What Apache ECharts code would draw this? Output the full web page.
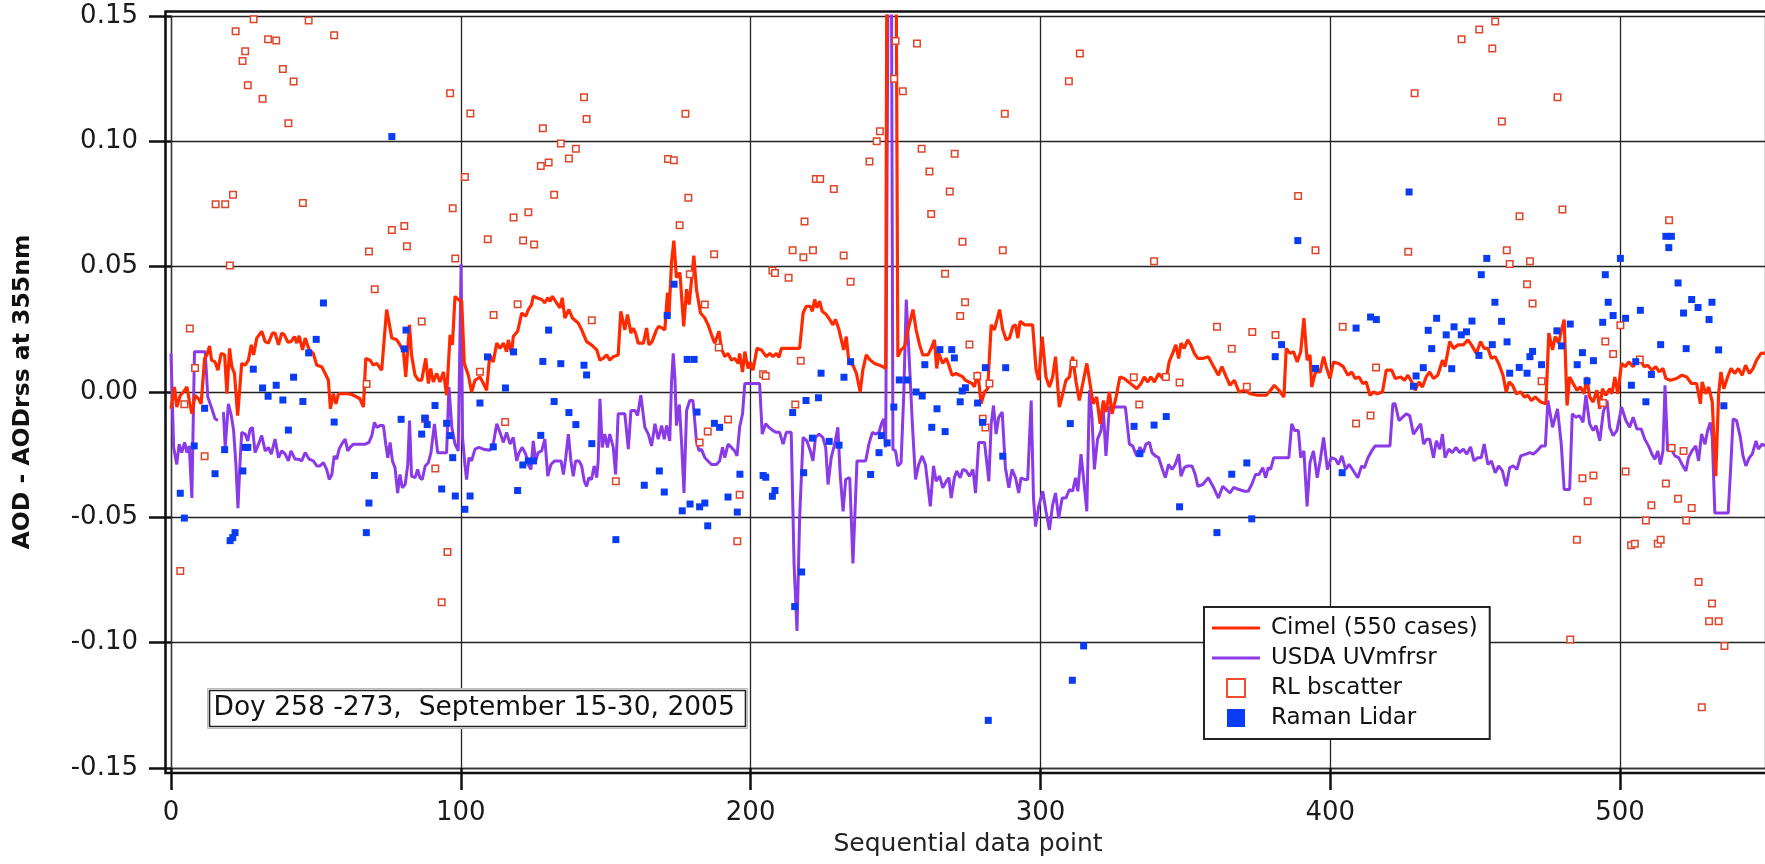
<!DOCTYPE html>
<html>
<head>
<meta charset="utf-8">
<title>AOD - AODrss at 355nm</title>
<script src="https://cdn.jsdelivr.net/npm/echarts@6/dist/echarts.min.js"></script>
<style>
  html, body { margin: 0; padding: 0; background: #fff; }
  #chart { width: 1765px; height: 864px; }
</style>
</head>
<body>
<div id="chart"></div>
<script>
// values: [data point, AOD - AODrss]
const cimel = [
  [0,-0.0067],[1.2,0.002],[2,-0.006],[3.2,-0.0013],[4.3,0],[5.5,0.002],[6.3,-0.0034],[7.2,-0.0087],[8.3,-0.0013],[9.5,-0.0027],
  [10.4,-0.0047],[11.6,0.0134],[12.4,0.0148],[13.3,0.0184],[14,0.0127],[15.2,0.012],[16.2,0.0087],[17.3,0.0154],[18.5,0.0148],[19.3,-0.0007],
  [20.2,0.0174],[21,0.01],[21.9,0.0074],[23,-0.0094],[24.4,0.0114],[25.6,0.0107],[26.7,0.0127],[27.7,0.0188],[28.5,0.0148],[29.6,0.0215],
  [31.3,0.0242],[32.5,0.0201],[33.6,0.0195],[35,0.0235],[35.9,0.0235],[37.1,0.0188],[38.2,0.0235],[39.1,0.0228],[40.3,0.0199],[41.4,0.0201],
  [42.6,0.0221],[43.4,0.0195],[44.2,0.0224],[45.4,0.0168],[46.3,0.0215],[47.7,0.0168],[49.1,0.0154],[50.3,0.0107],[52,0.0101],[53.2,0.0074],
  [54.3,0.0047],[55,-0.0067],[56,-0.0007],[56.9,-0.0047],[57.8,-0.0007],[59.5,-0.0007],[61,-0.0007],[62.4,-0.001],[64.1,-0.002],[65.2,-0.0027],
  [66.4,-0.006],[67.2,0.0134],[68.7,0.0127],[69.8,0.0107],[71,0.0114],[72.7,0.0087],[73.3,0.0087],[74.4,0.0329],[75,0.0329],[76.2,0.0215],
  [77.9,0.0208],[79,0.0188],[80.2,0.0161],[81,0.006],[82.3,0.0268],[83,0.0148],[84.2,0.0067],[85.4,0.0047],[86.5,0.0047],[87.9,0.0134],
  [88.8,0.0034],[89.6,0.0094],[90.5,0.004],[91.7,0.0074],[92.8,0.004],[94,0.008],[95.1,-0.0013],[96.3,0.0228],[97.1,0.0188],[98,0.0382],
  [99.1,0.0369],[100.3,0.0362],[101.2,0.0114],[102.6,0.0067],[103.7,0],[104.9,0.0047],[106.6,0.006],[107.8,0.0034],[108.9,0.0007],[110,0.0148],
  [111.2,0.012],[112.4,0.0195],[113.5,0.0174],[114.7,0.0195],[115.8,0.0161],[116.4,0.0208],[117.5,0.0154],[118.1,0.0221],[119.6,0.0242],[121,0.0315],
  [122.4,0.0302],[123.3,0.0329],[124.4,0.0349],[125,0.0382],[126.2,0.0376],[127.9,0.0369],[129,0.0356],[130,0.0376],[130.8,0.0362],[131.6,0.0382],
  [133,0.0356],[134.2,0.0336],[135,0.0376],[135.9,0.0295],[137.3,0.0329],[138.5,0.0295],[140.5,0.0275],[141.7,0.0248],[143.4,0.0201],[145.1,0.0188],
  [146.9,0.0168],[148,0.0127],[149.1,0.0134],[150.3,0.0148],[151.4,0.0127],[152.6,0.0141],[154.3,0.0148],[155.2,0.0322],[156.6,0.0248],[157.5,0.0309],
  [158.7,0.0235],[159.5,0.0255],[160.3,0.0235],[161.2,0.0195],[163,0.0195],[164.1,0.0255],[164.9,0.0188],[166,0.0201],[167.5,0.0248],[168.3,0.0262],
  [169.5,0.0255],[170.4,0.0248],[171.3,0.0396],[171.8,0.0302],[172.7,0.0517],[173.5,0.0604],[174.4,0.0456],[175.6,0.0476],[176.9,0.0262],[177.9,0.041],
  [178.8,0.0349],[180.4,0.0544],[181.3,0.041],[182.7,0.0315],[184.2,0.0295],[185.3,0.0268],[186.5,0.0228],[187.6,0.0195],[189.1,0.0242],[189.9,0.0174],
  [191.1,0.0141],[192.2,0.0154],[193.4,0.0127],[194.5,0.0134],[195.7,0.0114],[196.2,0.0154],[197.2,0.008],[198,0.0161],[199.1,0.0094],[199.9,0.012],
  [200.8,0.0087],[202.2,0.0174],[203.7,0.0168],[205.4,0.0141],[206.6,0.0154],[207.7,0.0141],[208.9,0.0154],[209.8,0.0138],[210.6,0.0174],[212.3,0.0174],
  [214.6,0.0174],[216.9,0.0174],[218.1,0.0315],[219.2,0.0342],[220.6,0.0342],[221.3,0.0322],[222.1,0.0369],[222.9,0.0336],[223.8,0.0362],[224.7,0.0322],
  [226.1,0.0309],[227.3,0.0289],[228.4,0.0268],[229.3,0.0289],[230.5,0.0248],[231.3,0.0208],[232.1,0.0168],[233,0.0221],[233.9,0.012],[235.3,0.0107],
  [236.5,0.0074],[237.8,0],[238.7,0.0087],[239.9,0.0148],[241.3,0.0127],[242.8,0.0114],[244.5,0.0107],[246.6,0.0094],[247,0.17],[248.2,0.17],
  [250.2,0.17],[250.8,0.0141],[251.9,0.0168],[253.1,0.0181],[254.3,0.0248],[256,0.0329],[257.1,0.0248],[258.3,0.0188],[259.4,0.0148],[261.2,0.0148],
  [262.3,0.0174],[263.4,0.0208],[264.2,0.0094],[264.9,0.0154],[266.3,0.0114],[267.5,0.0134],[268.4,0.0107],[269.5,0.0067],[270.9,0.0074],[272.1,0.0067],
  [273.2,0.006],[274.1,0.0047],[275.3,0.004],[276.4,0.0034],[277.2,0.002],[278.4,0.008],[279.5,-0.0047],[280.7,0],[281.8,0.0013],[283,0.0268],
  [284.1,0.0248],[285.9,0.0329],[287,0.0248],[288.2,0.0208],[289.3,0.0215],[290.5,0.0262],[291.4,0.0268],[292.2,0.0215],[293,0.0282],[294.5,0.0268],
  [297.3,0.0268],[298.5,0.0087],[299.4,0.0047],[300.6,0.0221],[301.9,0.006],[303.1,0.002],[304.2,0.006],[305.2,0.0141],[306.5,-0.006],[307.7,-0.0007],
  [308.8,0.0047],[310,0.006],[311.1,0.0141],[312.3,0.004],[313.4,-0.0034],[314.6,0.0034],[316,0.0114],[317.1,0.0034],[318.2,-0.0047],[319.4,-0.002],
  [320.6,-0.0127],[321.7,-0.0034],[322.6,-0.008],[323.8,0],[324.7,-0.0087],[326.1,-0.002],[327.4,0.006],[328.9,0.0054],[330.4,0.004],[331.8,0.0027],
  [333.2,0.0013],[334.7,0.0034],[335.8,0.006],[337,0.004],[338.1,0.006],[339.3,0.004],[340.8,0.0074],[342.2,0.0054],[343.5,0.006],[344.4,0.012],
  [345.6,0.0154],[346.7,0.0188],[347.7,0.0134],[348.5,0.0195],[349.6,0.0174],[350.8,0.0208],[351.9,0.0188],[353.1,0.0154],[354.3,0.0134],[356,0.0134],
  [357.9,0.0141],[359.8,0.0101],[361.4,0.0067],[362.6,0.0101],[364.1,0.006],[365.4,0.0027],[366.9,0.0047],[368.5,0],[370.4,0.0007],[372.3,-0.0007],
  [374.8,-0.0013],[377.9,-0.0013],[379.4,0.0007],[380.7,0.0027],[382.3,0.0007],[384,-0.002],[384.8,0.0174],[386.1,0.0154],[387.3,0.0161],[388.6,0.012],
  [389.8,0.0161],[390.9,0.0295],[392,0.0127],[393,0.0148],[393.6,0.002],[394.9,0.008],[396.5,0.008],[397.7,0.0141],[398.6,0.0101],[399.9,0.0054],
  [401.1,0.012],[402.8,0.0114],[404.5,0.0101],[406.1,0.0067],[407.4,0.008],[408.6,0.0054],[409.9,0.006],[411.2,0.0034],[412.4,0.004],[413.7,-0.0013],
  [414.9,0],[416.2,-0.0007],[418,0],[419.3,0.0087],[421.2,0.0087],[422.4,0.0054],[424.3,0.006],[425.6,0.0047],[426.8,0.0067],[428.1,0.004],
  [429.3,0.0007],[430.6,0.004],[431.8,0.002],[433.1,0.006],[434.3,0.008],[435.6,0.0054],[437.1,0.0067],[438.7,0.0127],[439.6,0.0101],[441.2,0.0201],
  [442.5,0.0174],[444.1,0.0188],[445.9,0.0188],[447.5,0.0208],[448.7,0.0188],[450.4,0.0154],[451.9,0.0201],[453.1,0.0174],[454.4,0.0174],[455.6,0.0134],
  [456.9,0.0141],[458.1,0.0114],[459.6,0.0067],[460.7,0],[461.7,0.004],[462.9,0.0027],[464.2,-0.0007],[465.7,0],[467,-0.002],[468.2,-0.0013],
  [469.4,-0.0034],[470.7,-0.002],[472.6,-0.004],[474.4,-0.0047],[475.4,0.0235],[476.7,0.0168],[477.6,0.0221],[478.8,0.0195],[479.7,0.0242],[480.7,0.0289],
  [481.7,-0.0054],[482.6,0.006],[483.8,0.0034],[485.1,0.0007],[486.3,0.002],[487.6,-0.0007],[488.5,0.006],[489.5,-0.002],[490.7,-0.004],[492,0.0007],
  [493,-0.0067],[493.9,0.0013],[495.1,-0.0013],[496.4,0.0013],[497.2,-0.0007],[498.2,0.006],[499.2,-0.0007],[500.5,0.0114],[501.7,0.0101],[503,0.012],
  [504.5,0.0101],[505.8,0.0127],[507.3,0.012],[508.3,0.0101],[509.5,0.0107],[511,0.0087],[512.3,0.0101],[513.5,0.008],[514.8,0.0094],[515.8,0.0054],
  [517.3,0.0047],[519.5,0.0054],[521.4,0.0067],[523,0.006],[524.6,0.0034],[526.4,0.0034],[527.7,-0.0047],[528.3,0.004],[529.6,-0.0007],[530.6,0.002],
  [531.8,-0.004],[533,-0.0336],[534,-0.0007],[534.8,0.008],[535.8,0.0013],[537.1,0.006],[538.3,0.0094],[539.6,0.0074],[540.8,0.0094],[542.1,0.0067],
  [543.3,0.0107],[544.6,0.0074],[545.9,0.0094],[547.1,0.0127],[548.6,0.0154],[550,0.0155]
];

const uvmfrsr = [
  [0,0.0154],[0.9,-0.0221],[2,-0.0289],[2.8,-0.0208],[3.7,-0.0242],[4.7,-0.0201],[5.5,-0.0242],[6.3,-0.0215],[7.2,-0.0423],[8.1,0.0161],
  [9.5,0.0161],[11.8,0.0161],[12.7,-0.002],[13.9,-0.006],[15.2,-0.0107],[16.2,-0.0114],[17,'-'],[18.1,-0.008],[18.7,-0.0221],[19.8,-0.0047],
  [20.8,-0.0094],[21.6,-0.0154],[22.4,-0.0289],[23.1,-0.0463],[23.9,-0.0262],[24.4,-0.0161],[25.6,-0.0168],[26.5,-0.0195],[27.3,-0.0148],[28.1,-0.0141],
  [29,-0.0242],[30.2,-0.0208],[31.3,-0.0174],[32.5,-0.0235],[33.6,-0.0221],[34.6,-0.0248],[35.9,-0.0188],[37.1,-0.0262],[38.2,-0.0235],[39.4,-0.0248],
  [40.5,-0.0275],[41.4,-0.0235],[42.8,-0.0268],[44,-0.0268],[45.1,-0.0275],[46.3,-0.0242],[47.7,-0.0268],[49.1,-0.0275],[50.3,-0.0295],[51.4,-0.0295],
  [52.6,-0.0282],[53.7,-0.0309],[54.6,-0.0349],[55.5,-0.0329],[56.3,-0.0255],[57.2,-0.0268],[58,-0.0228],[58.9,-0.0208],[60.1,-0.0188],[61,-0.0235],
  [61.8,-0.0221],[62.9,-0.0208],[64.7,-0.0208],[67,-0.0208],[68.3,-0.0201],[69.3,-0.0174],[70.2,-0.0121],[71,-0.0141],[72.1,-0.0134],[73.3,-0.0134],
  [74.1,-0.0208],[74.8,-0.0262],[75.6,-0.0201],[76.4,-0.0275],[77.3,-0.0302],[78.2,-0.0403],[79,-0.0329],[79.8,-0.0382],[80.8,-0.0369],[81.7,-0.0289],
  [82.3,-0.0114],[83,-0.0336],[84.2,-0.0342],[85.1,-0.0309],[85.9,-0.0342],[86.7,-0.0349],[87.7,-0.0295],[88.8,-0.0282],[89.7,-0.0242],[90.9,-0.0127],
  [92,-0.0242],[93.4,-0.0242],[95.1,-0.0242],[95.9,0.002],[96.9,-0.0141],[98,-0.0208],[99.1,-0.0235],[100.1,0.051],[100.6,-0.0181],[101.4,-0.0289],
  [102,-0.0349],[102.8,-0.0262],[103.7,-0.0275],[104.9,-0.0228],[106.3,-0.0221],[107.8,-0.0228],[110.1,-0.0232],[111.2,-0.0208],[112.4,-0.0127],[113.5,-0.0161],
  [114.7,-0.0201],[115.8,-0.0161],[117,-0.0208],[118.1,-0.0181],[119.3,-0.0275],[120.1,-0.0242],[121.2,-0.0221],[122.4,-0.0248],[123.3,-0.0289],[124.2,-0.0309],
  [125,-0.0195],[125.8,-0.0275],[126.7,-0.0242],[127.9,-0.0235],[129,-0.0188],[130,-0.0336],[131.1,-0.0289],[132.3,-0.0275],[133.4,-0.0275],[134.6,-0.0275],
  [135.4,-0.0329],[136.2,-0.0262],[137.1,-0.0168],[138,-0.0275],[138.8,-0.0336],[139.6,-0.0275],[140.8,-0.0275],[141.7,-0.0295],[142.6,-0.0356],[143.4,-0.0376],
  [144.2,-0.0342],[145.1,-0.0349],[146,-0.0295],[146.9,-0.0342],[147.4,-0.0275],[148,-0.0027],[148.8,-0.0221],[149.7,-0.0168],[150.6,-0.0221],[151.4,-0.0168],
  [152.6,-0.0221],[153.4,-0.0329],[154.3,-0.0087],[155.7,-0.0087],[156.6,-0.0087],[157.8,-0.0228],[158.7,-0.0074],[160.1,-0.0074],[161,-0.0094],[162.1,-0.0013],
  [163.5,-0.0141],[164.7,-0.0168],[165.8,-0.0215],[167,-0.0127],[168.1,-0.0188],[169.3,-0.0134],[170.2,-0.0188],[171,-0.0134],[172.1,-0.0195],[172.7,0.004],
  [173.3,0.0154],[173.9,0.0047],[174.4,-0.0134],[175.4,-0.005],[176.2,-0.0208],[177,-0.0403],[177.9,-0.0074],[179,-0.0034],[180.1,-0.0034],[181.3,-0.0195],
  [182.2,-0.0235],[183,-0.0228],[184.2,-0.0262],[185.3,-0.0275],[186.5,-0.0289],[188.2,-0.0289],[189.3,-0.0275],[190.3,-0.0221],[191.1,-0.0262],[192.2,-0.0208],
  [193.4,-0.0221],[194.5,-0.0235],[195.3,-0.0255],[196.2,-0.0141],[197.2,-0.0087],[198,0.0034],[199.7,0.0034],[201.4,0.0034],[203.1,0.0034],[204,-0.0168],
  [205.2,-0.0127],[206.3,-0.0141],[207.7,-0.0154],[208.9,-0.0161],[210,-0.0161],[211.2,-0.0208],[212.3,-0.0161],[214,-0.0161],[215,-0.0691],[216,-0.0953],
  [216.9,-0.0503],[218.1,-0.0181],[219.4,-0.0195],[220.6,-0.0235],[221.5,-0.0275],[222.4,-0.0181],[223.6,-0.0168],[224.9,-0.0181],[225.9,-0.0221],[226.7,-0.0369],
  [227.8,-0.0262],[229,-0.0208],[230.1,-0.0141],[230.9,-0.0329],[231.9,-0.0476],[232.8,-0.0349],[234.2,-0.0342],[235.3,-0.0684],[236.7,-0.0275],[238.2,-0.0275],
  [239.7,-0.0275],[240.8,-0.0208],[242,-0.0161],[243.1,-0.0168],[244.3,-0.0161],[245.1,-0.0127],[245.9,-0.0107],[246.6,-0.0221],[247.4,0.16],[248.6,0.16],
  [249.1,-0.0228],[250,-0.0235],[250.8,-0.0295],[251.9,-0.0282],[252.8,-0.002],[253.7,0.0369],[254.8,0.0114],[255.8,-0.0127],[256.9,-0.0349],[258,-0.0289],
  [259.2,-0.0255],[260.3,-0.0289],[262,-0.0456],[263.1,-0.0295],[264,-0.0356],[265.2,-0.0336],[266.3,-0.0382],[267.5,-0.0356],[268.4,-0.0342],[269.2,-0.0423],
  [270.3,-0.0342],[271.1,-0.0315],[272.3,-0.0342],[273.2,-0.0309],[274.4,-0.0315],[275.5,-0.0336],[276.7,-0.0309],[277.6,-0.0403],[278.7,-0.0201],[280.7,-0.0201],
  [282.2,-0.0356],[283,-0.0127],[283.8,-0.0054],[284.7,-0.0168],[285.6,-0.0101],[286.8,-0.008],[287.9,-0.0302],[289.1,-0.0382],[290.2,-0.0309],[291.4,-0.0342],
  [292.5,-0.0403],[293.3,-0.0342],[294.5,-0.0349],[295.6,-0.0349],[296.8,-0.0034],[297.6,-0.0423],[298.3,-0.0537],[299.4,-0.0456],[300.8,-0.0396],[301.9,-0.0476],
  [303.1,-0.055],[304.2,-0.045],[305.2,-0.0403],[306.3,-0.0503],[307.5,-0.0423],[308.8,-0.0423],[310,-0.0389],[311.1,-0.0396],[312.1,-0.0342],[312.9,-0.0396],
  [314,-0.0248],[314.8,-0.0336],[316,-0.0476],[316.9,0.0007],[317.8,-0.0107],[318.6,-0.0309],[319.7,-0.0188],[320.9,-0.0154],[321.7,-0.0074],[322.6,-0.0255],
  [323.8,-0.006],[324.7,-0.006],[327,-0.006],[329.3,-0.006],[330.7,-0.0208],[331.8,-0.0215],[333.2,-0.0255],[334.3,-0.0221],[335.5,-0.0242],[336.4,-0.0208],
  [337.6,-0.0201],[338.5,-0.0242],[339.6,-0.0255],[340.8,-0.0262],[341.9,-0.0302],[343.1,-0.0342],[344.2,-0.0289],[345.4,-0.0309],[346.5,-0.0289],[347.7,-0.0248],
  [348.5,-0.0336],[349.6,-0.0302],[350.8,-0.0295],[352.3,-0.0295],[353.4,-0.0329],[354.3,-0.0376],[356,-0.0369],[357.9,-0.0342],[359.8,-0.0382],[361.4,-0.0423],
  [362.9,-0.0376],[364.1,-0.0389],[365.4,-0.0403],[366.7,-0.038],[368.5,-0.0389],[370.4,-0.0396],[371.7,-0.0396],[372.9,-0.0369],[374.2,-0.0329],[375.4,-0.0329],
  [376.7,-0.0302],[377.7,-0.0342],[378.6,-0.0302],[379.4,-0.0309],[380.5,-0.0262],[382.9,-0.0262],[385.7,-0.0262],[386.7,-0.0127],[387.7,-0.0154],[389,-0.0154],
  [389.8,-0.0262],[390.9,-0.0235],[392,-0.0456],[393,-0.0282],[394.2,-0.0235],[395.5,-0.0342],[396.5,-0.0275],[397.7,-0.0181],[399,-0.0309],[400.3,-0.0262],
  [401.8,-0.0268],[402.8,-0.0289],[404,-0.0255],[405.3,-0.0309],[406.5,-0.0289],[408,-0.0315],[409.5,-0.0342],[410.8,-0.0295],[411.8,-0.0302],[413,-0.0262],
  [414.3,-0.0235],[415.5,-0.0215],[418,-0.0215],[420.6,-0.0215],[421.6,-0.0047],[422.4,-0.0047],[423.7,-0.0114],[424.9,-0.0101],[426.2,-0.0087],[427.4,-0.0094],
  [428.7,-0.0168],[429.9,-0.0148],[431.2,-0.0127],[432.2,-0.0208],[433.3,-0.0188],[434.3,-0.0188],[435.6,-0.0262],[436.6,-0.0195],[437.8,-0.0228],[438.7,-0.0168],
  [439.6,-0.0262],[440.9,-0.0228],[442.1,-0.0242],[443.4,-0.0221],[444.6,-0.0242],[445.9,-0.0228],[447.1,-0.0248],[448.4,-0.0219],[449.6,-0.0275],[450.9,-0.0262],
  [452.1,-0.0262],[453.1,-0.0208],[454.4,-0.0289],[455.6,-0.0275],[456.9,-0.0322],[458.1,-0.0295],[459.4,-0.0315],[460.7,-0.0376],[461.9,-0.0302],[463.2,-0.0295],
  [464.4,-0.0309],[465.7,-0.0255],[467.5,-0.0248],[468.8,-0.0242],[470.1,-0.0248],[471.3,-0.0235],[472.9,-0.0215],[474.2,-0.0215],[475.1,-0.0034],[476.7,-0.0141],
  [478.4,-0.0067],[479.7,-0.0208],[480.7,-0.0389],[482.6,-0.0389],[483.5,-0.0087],[484.7,-0.0101],[486,-0.0094],[487.2,-0.0121],[488.2,-0.0013],[489.5,-0.0127],
  [490.7,-0.0154],[491.7,-0.0134],[493,-0.0195],[494.2,-0.008],[495.5,-0.0034],[496.4,-0.0141],[497.6,-0.0174],[498.9,-0.0154],[500.5,-0.006],[502,-0.0114],
  [503.3,-0.0141],[504.5,-0.0101],[505.8,-0.0148],[507.3,-0.0148],[508.5,-0.0188],[509.8,-0.0215],[511,-0.0248],[512,-0.0268],[513,-0.0235],[513.9,-0.0289],
  [514.8,-0.0235],[515.5,0.0027],[516.4,-0.0235],[517.7,-0.0228],[518.9,-0.0255],[520.2,-0.0262],[521.4,-0.0289],[522.7,-0.0315],[523.6,-0.0262],[524.8,-0.0235],
  [526.1,-0.0215],[527.1,-0.0275],[528.1,-0.0168],[529.3,-0.0208],[530.2,-0.0154],[531.1,-0.0121],[531.8,-0.0181],[532.7,-0.0483],[534.6,-0.0483],[537.3,-0.0483],
  [538.1,-0.0315],[539,-0.0107],[540.2,-0.0114],[541.5,-0.0181],[542.4,-0.0255],[543.4,-0.0295],[544.6,-0.0262],[545.6,-0.0248],[546.9,-0.0195],[547.7,-0.0228],
  [549,-0.0208],[550,-0.0215]
];

const rlBscatter = [
  [3.2,-0.0714],[4.6,-0.0049],[6.5,0.0253],[8.3,0.0096],[11.6,-0.0256],[15.4,0.0749],[18.7,0.0749],[20.3,0.0505],[21.4,0.0787],[22.3,0.1439],
  [24.7,0.132],[25.6,0.1359],[26.5,0.1224],[28.5,0.1487],[31.6,0.117],[33.5,0.1407],[36.3,0.1402],[38.6,0.1289],[40.5,0.1072],[42.3,0.1239],
  [45.5,0.0754],[47.5,0.1482],[56.3,0.1423],[67.5,0.0032],[68.3,0.0561],[70.3,0.041],[76.2,0.0646],[80.5,0.0662],[81.4,0.0581],[86.5,0.0281],
  [87.7,-0.0108],[91.2,-0.0305],[93.4,-0.0839],[95.4,-0.0638],[96.3,0.1192],[97.2,0.0733],[98.1,0.0533],[101.4,0.0858],[103.3,0.1111],[106.6,0.0081],
  [109.3,0.0609],[111.3,0.0307],[115.3,-0.012],[118.2,0.0696],[119.6,0.035],[121.5,0.0604],[123.3,0.0717],[125.3,0.0588],[127.6,0.0902],[128.3,0.1052],
  [130.3,0.0916],[132.2,0.0787],[134.5,0.0991],[137.3,0.0932],[139.7,0.097],[142.5,0.1176],[143.4,0.1089],[145.2,0.0286],[153.5,-0.0356],[171.5,0.093],
  [173.5,0.0925],[175.5,0.0665],[177.5,0.111],[178.5,0.0775],[179,0.047],[182.4,-0.0201],[184.2,0.0349],[185.2,-0.0158],[187.4,0.055],[189,0.0178],
  [192.2,-0.011],[195.4,-0.0595],[196.2,-0.041],[204.3,0.0071],[205.2,0.0064],[207.5,0.0485],[208.4,0.0475],[213.1,0.0456],[214.5,0.0565],[215.4,-0.005],
  [217.3,0.0125],[218.2,0.0538],[218.6,0.068],[221.5,0.0565],[222.5,0.085],[224,0.085],[228.7,0.081],[232.1,0.0545],[234.5,0.044],[241,0.092],
  [243.5,0.1],[244.6,0.104],[249.5,0.125],[250,0.14],[252.5,0.12],[257.4,0.139],[259,0.097],[261.7,0.088],[262.3,0.071],[267.1,0.0472],
  [268.7,0.08],[270.4,0.095],[272.3,0.0303],[273.1,0.0599],[274,0.0358],[275.5,0.0189],[278.2,0.0064],[280.1,-0.0107],[281,-0.0142],[282.4,0.0034],
  [287,0.0565],[287.7,0.111],[309.8,0.124],[311.4,0.0114],[313.6,0.135],[332.2,0.0059],[334.1,-0.005],[339.2,0.0522],[343.3,0.006],[348,0.0038],
  [360.9,0.026],[366,0.0173],[371.2,0.0021],[373.1,0.0239],[381.1,0.0227],[388.9,0.0782],[394.9,0.0565],[404.3,0.026],[408.9,-0.0126],[413.9,-0.0094],
  [415.8,0.0098],[426.9,0.056],[429.1,0.1192],[445.3,0.1407],[451.4,0.1446],[455.9,0.137],[456.9,0.1478],[459.2,0.1079],[460.9,0.0565],[461.9,0.0511],
  [465.3,0.0701],[467.9,0.043],[468.9,0.0522],[469.8,0.0353],[472.9,0.0043],[478.4,0.1176],[480.1,0.0728],[482.8,-0.0987],[485.1,-0.0589],[487,-0.0344],
  [488.8,-0.0436],[490.8,-0.0333],[494.1,-0.0044],[494.9,0.0201],[497.6,0.0152],[500.1,0.0266],[501.9,-0.0317],[503.8,-0.0611],[505.1,-0.0605],[506.8,0.013],
  [508.9,-0.0513],[510.8,-0.0452],[513,-0.0605],[514,-0.0589],[515.8,-0.0365],[516.9,0.0685],[517.8,-0.0223],[520,-0.0426],[521.9,-0.0235],[522.8,-0.0513],
  [524.7,-0.0463],[527.1,-0.0758],[528.2,-0.1258],[530.7,-0.0915],[531.7,-0.0844],[534,-0.0915],[536,-0.1013]
];

const ramanLidar = [
  [3.2,-0.0404],[4.6,-0.0503],[8,-0.0215],[11.6,-0.0065],[15.2,-0.0326],[18.5,-0.023],[20.4,-0.0593],[21.3,-0.0581],[22.1,-0.0561],[24.8,-0.0315],
  [25.6,-0.0221],[26.5,-0.0221],[28.4,0.0091],[31.6,0.0016],[33.5,-0.0017],[36.3,0.0027],[38.6,-0.0032],[40.5,-0.0152],[42.3,0.0059],[45.5,-0.0038],
  [47.5,0.0156],[50.1,0.021],[52.6,0.0355],[56.3,-0.012],[67.4,-0.0561],[68.3,-0.0443],[70.2,-0.0333],[76.2,0.1019],[79.4,-0.0109],[80.5,0.0172],
  [81.1,0.0247],[86.5,-0.0168],[87.6,-0.0104],[88.4,-0.013],[91.1,-0.0054],[93.4,-0.0387],[95.1,-0.0125],[96.3,-0.0174],[97.2,-0.0262],[98.1,-0.0415],
  [101.4,-0.0468],[103.2,-0.0415],[106.6,-0.0044],[109.2,0.014],[111.2,-0.0219],[115.4,0.0016],[118.2,0.016],[119.6,-0.0393],[121.4,-0.0291],[123.3,-0.0275],
  [125.1,-0.0275],[127.6,-0.0173],[128.3,0.0122],[130.3,0.0247],[132.2,-0.0038],[134.5,0.0113],[137.3,-0.0082],[139.7,-0.013],[142.5,0.0107],[143.4,0.0068],
  [145.2,-0.0206],[153.5,-0.0589],[163.3,-0.0372],[168.5,-0.0315],[170.2,-0.0399],[171.2,0.0305],[173.6,0.043],[176.4,-0.0474],[178.1,0.013],[179.1,-0.0447],
  [180.5,0.013],[181.5,-0.008],[182.4,-0.0458],[184.2,-0.0443],[185.2,-0.0534],[187.5,-0.0125],[189.3,-0.0141],[192.2,-0.0419],[195.4,-0.0479],[196.3,-0.0328],
  [204.3,-0.0333],[205.2,-0.034],[207.5,-0.0416],[208.4,-0.0393],[214.5,-0.0082],[215.2,-0.0856],[217.6,-0.0718],[218.3,-0.0322],[219.1,-0.0034],[221.3,-0.0184],
  [223.4,-0.0023],[224.3,0.0075],[227.1,-0.0197],[230.5,-0.0212],[232.2,0.0059],[234.5,0.0121],[241.4,-0.0329],[244.3,-0.0242],[245.1,-0.0174],[247.1,-0.0203],
  [249.4,-0.006],[251.3,0.0048],[254,0.0048],[257.1,0],[259.2,-0.0016],[260.1,0.0109],[262.5,-0.0141],[264.3,-0.0067],[265.3,0.0169],[267.1,-0.0158],
  [269.4,0.0169],[270.3,0.0136],[272.3,-0.0039],[273,0.0004],[274.1,0.0017],[278.3,-0.0044],[280,-0.0121],[281,0.0097],[282,-0.131],[287,-0.0256],
  [288,0.0097],[310.3,-0.0126],[311,-0.115],[314.9,-0.1013],[332.3,-0.0137],[334.3,-0.0246],[339.2,-0.0132],[343.4,-0.0098],[348,-0.0458],[360.9,-0.0561],
  [366,-0.0328],[371.2,-0.0283],[372.9,-0.0506],[381,0.0141],[383.2,0.0189],[388.8,0.0604],[394.9,0.0094],[404.1,-0.0322],[408.9,0.0255],[413.9,0.0299],
  [415.9,0.0289],[427.2,0.0798],[428.7,0.0023],[429.6,0.0064],[432.1,0.0097],[433.8,0.0246],[435,0.0173],[436.7,0.0294],[440,0.0228],[441.9,0.0093],
  [442.7,0.026],[445.2,0.0228],[447,0.024],[448.9,0.0283],[451.3,0.0146],[452.1,0.0468],[454,0.0533],[455.9,0.0189],[456.8,0.0358],[459.1,0.0282],
  [461,0.02],[461.9,0.0075],[465.2,0.0098],[467.9,0.0075],[468.9,0.0141],[469.8,0.0162],[472.9,0.0109],[478.2,0.0244],[479.8,0.0184],[482.8,0.0271],
  [485.2,0.0109],[487,0.0157],[488.6,0.0044],[490.8,0.0125],[494,0.0278],[494.9,0.0468],[495.9,0.0358],[497.6,0.0305],[500.1,0.0533],[501.9,0.0294],
  [503.9,0.0027],[505.4,0.0121],[507,0.0326],[508.9,-0.0039],[510.8,0.007],[514,0.0189],[515.8,0.0621],[516.8,0.0576],[517.7,0.0621],[520,0.0435],
  [521.9,0.0315],[522.8,0.0173],[524.7,0.0369],[526.9,0.0337],[530.7,0.0289],[531.7,0.0358],[534,0.0168],[535.8,-0.0055]
];

const seriesNames = ['Cimel (550 cases)', 'USDA UVmfrsr', 'RL bscatter', 'Raman Lidar'];
const xTicks = { min: 0, max: 550, step: 100 };
const yTicks = { min: -0.15, max: 0.15, step: 0.05 };
const note = 'Doy 258 -273,  September 15-30, 2005';

const FONT = 'DejaVu Sans';
const squareIcon = 'path://M0,0 L10,0 L10,10 L0,10 Z';
const lineIcon = 'path://M0,0 L48,0 L48,3 L0,3 Z';

const chart = echarts.init(document.getElementById('chart'), null, { renderer: 'canvas' });

const option = {
  animation: false,
  backgroundColor: '#fff',
  grid: { left: 171, right: 0, top: 16, bottom: 96, containLabel: false },
  xAxis: {
    type: 'value',
    min: xTicks.min, max: xTicks.max, interval: xTicks.step,
    name: 'Sequential data point',
    nameLocation: 'middle', nameGap: 64,
    nameTextStyle: { fontFamily: FONT, fontSize: 25, color: '#222' },
    axisLine: { show: true, onZero: false, lineStyle: { color: '#333', width: 1.3 } },
    axisTick: { show: true, length: 22, lineStyle: { color: '#111', width: 2.5 } },
    axisLabel: { fontFamily: FONT, fontSize: 26, color: '#1a1a1a', margin: 32, showMaxLabel: false },
    splitLine: { show: true, lineStyle: { color: '#222', width: 1.3 } }
  },
  yAxis: {
    type: 'value',
    min: yTicks.min, max: yTicks.max, interval: yTicks.step,
    name: 'AOD - AODrss at 355nm',
    nameLocation: 'middle', nameGap: 136, nameRotate: 90,
    nameTextStyle: { fontFamily: FONT, fontSize: 23.5, fontWeight: 'bold', color: '#111' },
    axisLine: { show: true, onZero: false, lineStyle: { color: '#333', width: 1.3 } },
    axisTick: { show: true, length: 22, lineStyle: { color: '#111', width: 2.5 } },
    axisLabel: {
      fontFamily: FONT, fontSize: 26, color: '#1a1a1a', margin: 33,
      formatter: v => v.toFixed(2)
    },
    splitLine: { show: true, lineStyle: { color: '#222', width: 1.3 } }
  },
  legend: {
    orient: 'vertical',
    left: 1204, top: 607,
    padding: [9, 12, 9, 8],
    itemWidth: 48, itemHeight: 18, itemGap: 6,
    backgroundColor: '#fff',
    borderColor: '#222', borderWidth: 2,
    symbolKeepAspect: true,
    textStyle: { fontFamily: FONT, fontSize: 23, color: '#111', lineHeight: 24, padding: [0, 0, 0, 6] },
    data: [
      { name: seriesNames[0], icon: lineIcon, itemStyle: { color: '#ff2a00' } },
      { name: seriesNames[1], icon: lineIcon, itemStyle: { color: '#8a3ae6' } },
      { name: seriesNames[2], icon: squareIcon, itemStyle: { color: '#fff', borderColor: '#f0502e', borderWidth: 2 } },
      { name: seriesNames[3], icon: squareIcon }
    ]
  },
  series: [
    {
      name: seriesNames[0], type: 'line', data: cimel,
      symbol: 'none', showSymbol: false, clip: true, z: 3,
      lineStyle: { color: '#ff2a00', width: 3.2 }, itemStyle: { color: '#ff2a00' }
    },
    {
      name: seriesNames[1], type: 'line', data: uvmfrsr,
      symbol: 'none', showSymbol: false, clip: true, connectNulls: false, z: 2,
      lineStyle: { color: '#8a3ae6', width: 3 }, itemStyle: { color: '#8a3ae6' }
    },
    {
      name: seriesNames[2], type: 'scatter', data: rlBscatter,
      symbol: 'rect', symbolSize: 6.5, z: 4,
      itemStyle: { color: '#fff', borderColor: '#e0452a', borderWidth: 1.5, opacity: 1 }
    },
    {
      name: seriesNames[3], type: 'scatter', data: ramanLidar,
      symbol: 'rect', symbolSize: 7, z: 4,
      itemStyle: { color: '#0a3cf5', opacity: 1 }
    }
  ]
};

chart.setOption(option);

// double frame round the plot, plus the date note box
const tl = chart.convertToPixel({ gridIndex: 0 }, [xTicks.min, yTicks.max]);
const br = chart.convertToPixel({ gridIndex: 0 }, [xTicks.max, yTicks.min]);
chart.setOption({
  graphic: [
    {
      type: 'rect', silent: true, z: 10,
      shape: { x: tl[0] - 5.5, y: tl[1] - 4.5, width: br[0] - tl[0] + 40, height: br[1] - tl[1] + 9.5 },
      style: { fill: null, stroke: '#111', lineWidth: 2.6 }
    },
    {
      type: 'group', left: 207, top: 688, z: 12,
      children: [
        { type: 'rect', shape: { x: 0, y: 0, width: 540, height: 40 },
          style: { fill: '#fff', stroke: '#bbb', lineWidth: 1 } },
        { type: 'rect', shape: { x: 2, y: 2, width: 536, height: 36 },
          style: { fill: '#fff', stroke: '#222', lineWidth: 1.6 } },
        { type: 'text', x: 6, y: 20,
          style: { text: note, font: '26.5px "DejaVu Sans"', fill: '#111', verticalAlign: 'middle', align: 'left' } }
      ]
    }
  ]
});
</script>
</body>
</html>
